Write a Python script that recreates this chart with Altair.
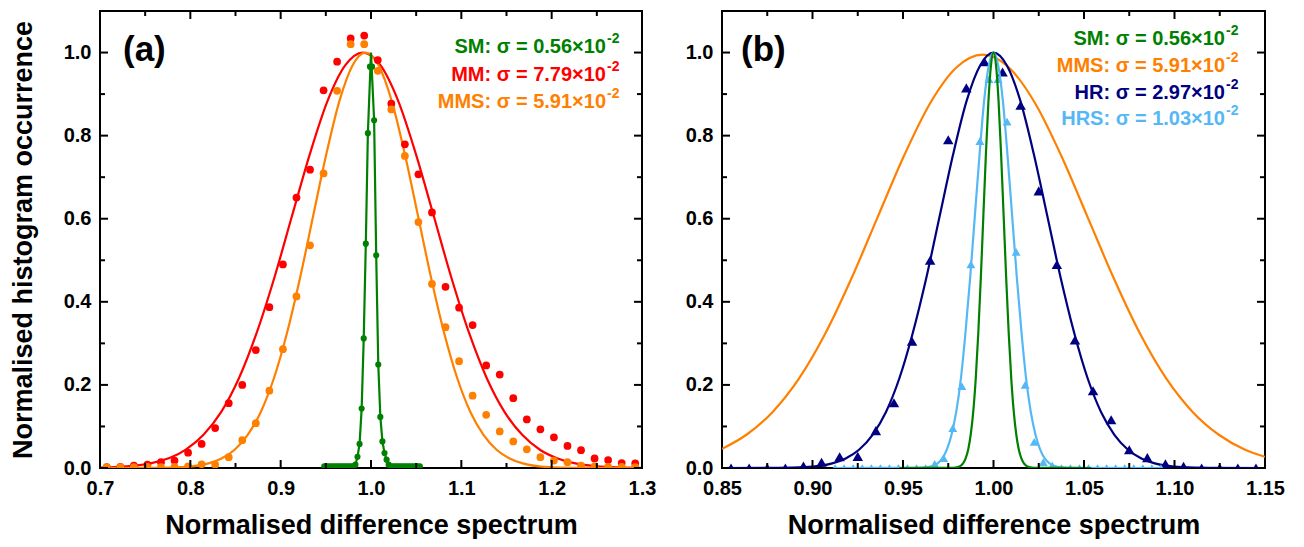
import altair as alt
import pandas as pd

FONT = "Liberation Sans"
RED, ORANGE, GREEN = "#FF0000", "#FF8000", "#008000"
NAVY, LBLUE = "#000080", "#55B8F5"

# ---------------- panel (a) data ----------------
dots_a_x = [0.7075, 0.7225, 0.7375, 0.7525, 0.7675, 0.7825, 0.7975, 0.8125, 0.8275, 0.8425,
            0.8575, 0.8725, 0.8875, 0.9025, 0.9175, 0.9325, 0.9475, 0.9625, 0.9775, 0.9925,
            1.0075, 1.0225, 1.0375, 1.0525, 1.0675, 1.0825, 1.0975, 1.1125, 1.1275, 1.1425,
            1.1575, 1.1725, 1.1875, 1.2025, 1.2175, 1.2325, 1.2475, 1.2625, 1.2775, 1.2925]
mm_dots = [0.002, 0.003, 0.006, 0.008, 0.014, 0.018, 0.037, 0.058, 0.096, 0.156,
           0.200, 0.284, 0.387, 0.490, 0.651, 0.718, 0.909, 0.978, 1.034, 1.041,
           0.982, 0.877, 0.779, 0.707, 0.615, 0.436, 0.386, 0.344, 0.247, 0.225,
           0.168, 0.117, 0.093, 0.074, 0.053, 0.043, 0.023, 0.019, 0.012, 0.011]
mms_dots = [0.002, 0.002, 0.002, 0.003, 0.002, 0.003, 0.004, 0.009, 0.008, 0.026,
            0.067, 0.108, 0.186, 0.286, 0.413, 0.536, 0.709, 0.908, 1.020, 1.020,
            0.956, 0.863, 0.751, 0.592, 0.443, 0.339, 0.257, 0.174, 0.128, 0.088,
            0.064, 0.045, 0.026, 0.018, 0.014, 0.006, 0.004, 0.003, 0.003, 0.002]
sm_dots_x = [0.94825, 0.95055, 0.95285, 0.95515, 0.95745, 0.95975, 0.96205, 0.96435, 0.96665, 0.96895,
             0.97125, 0.97355, 0.97585, 0.97815, 0.98045, 0.98275, 0.98505, 0.98735, 0.98965, 0.99195,
             0.99425, 0.99655, 0.99885, 1.00115, 1.00345, 1.00575, 1.00805, 1.01035, 1.01265, 1.01495,
             1.01725, 1.01955, 1.02185, 1.02415, 1.02645, 1.02875, 1.03105, 1.03335, 1.03565, 1.03795,
             1.04025, 1.04255, 1.04485, 1.04715, 1.04945, 1.05175, 1.05405]
sm_dots = [0.004, 0.004, 0.004, 0.004, 0.004, 0.004, 0.004, 0.004, 0.004, 0.004,
           0.004, 0.004, 0.004, 0.004, 0.004, 0.008, 0.027, 0.058, 0.143, 0.312,
           0.540, 0.806, 0.966, 0.966, 0.837, 0.512, 0.249, 0.123, 0.064, 0.036,
           0.020, 0.008, 0.004, 0.004, 0.004, 0.004, 0.004, 0.004, 0.004, 0.004,
           0.004, 0.004, 0.004, 0.004, 0.004, 0.004, 0.004]

# fitted curves
mm_fit_x = [0.700, 0.7166, 0.7558, 0.795, 0.8146, 0.8342, 0.8538, 0.8734, 0.893, 0.9126,
            0.9322, 0.9518, 0.9714, 0.991, 1.0106, 1.0302, 1.0498, 1.0694, 1.089, 1.1086,
            1.1282, 1.1478, 1.1674, 1.187, 1.2066, 1.2262, 1.2654, 1.300]
mm_fit_y = [0.001, 0.002, 0.011, 0.044, 0.080, 0.135, 0.216, 0.325, 0.458, 0.607,
            0.755, 0.883, 0.969, 1.000, 0.969, 0.883, 0.755, 0.607, 0.458, 0.325,
            0.216, 0.135, 0.080, 0.044, 0.023, 0.011, 0.002, 0.0004]
mms_fit_x = [0.700, 0.762, 0.791, 0.820, 0.8345, 0.849, 0.8635, 0.878, 0.8925, 0.907,
             0.9215, 0.936, 0.9505, 0.965, 0.9795, 0.994, 1.0085, 1.023, 1.0375, 1.052,
             1.0665, 1.081, 1.0955, 1.110, 1.1245, 1.139, 1.1535, 1.168, 1.197, 1.226, 1.300]
mms_fit_y = [0.0, 0.0003, 0.002, 0.011, 0.023, 0.044, 0.080, 0.135, 0.216, 0.325,
             0.458, 0.607, 0.755, 0.883, 0.969, 1.000, 0.969, 0.883, 0.755, 0.607,
             0.458, 0.325, 0.216, 0.135, 0.080, 0.044, 0.023, 0.011, 0.002, 0.0003, 0.0]
sm_line_x = [0.94825, 0.98045, 0.98275, 0.98505, 0.98735, 0.98965, 0.99195, 0.99425, 0.99655, 1.0,
             1.00345, 1.00575, 1.00805, 1.01035, 1.01265, 1.01495, 1.01725, 1.01955, 1.02185, 1.05405]
sm_line_y = [0, 0, 0.008, 0.027, 0.058, 0.143, 0.312, 0.540, 0.806, 1.0,
             0.837, 0.512, 0.249, 0.123, 0.064, 0.036, 0.020, 0.008, 0, 0]

# ---------------- panel (b) data ----------------
hr_x = [0.855, 0.865, 0.875, 0.885, 0.895, 0.905, 0.915, 0.925, 0.935, 0.945,
        0.955, 0.965, 0.975, 0.985, 0.995, 1.005, 1.015, 1.025, 1.035, 1.045,
        1.055, 1.065, 1.075, 1.085, 1.095, 1.105, 1.115, 1.125, 1.135, 1.145]
hr_tri = [0.0, 0.0, 0.0, 0.0, 0.005, 0.014, 0.027, 0.028, 0.090, 0.157,
          0.305, 0.500, 0.790, 0.915, 0.978, 0.953, 0.873, 0.667, 0.490, 0.308,
          0.186, 0.116, 0.044, 0.025, 0.010, 0.004, 0.0, 0.0, 0.0, 0.0]
hrs_x = [0.9125, 0.9175, 0.9225, 0.9275, 0.9325, 0.9375, 0.9425, 0.9475, 0.9525, 0.9575,
         0.9625, 0.9675, 0.9725, 0.9775, 0.9825, 0.9875, 0.9925, 0.9975, 1.0025, 1.0075,
         1.0125, 1.0175, 1.0225, 1.0275, 1.0325, 1.0375, 1.0425, 1.0475, 1.0525, 1.0575,
         1.0625, 1.0675, 1.0725, 1.0775, 1.0825, 1.0875, 1.0925]
hrs_tri = [0, 0, 0, 0, 0, 0, 0, 0, 0, 0,
           0, 0.010, 0.024, 0.096, 0.197, 0.490, 0.787, 0.936, 0.936, 0.834,
           0.520, 0.200, 0.063, 0.014, 0.006, 0, 0, 0, 0, 0,
           0, 0, 0, 0, 0, 0, 0]

mms_b_x = [0.850, 0.8635, 0.878, 0.8925, 0.907, 0.9215, 0.936, 0.9505, 0.965, 0.9795,
           0.994, 1.0085, 1.023, 1.0375, 1.052, 1.0665, 1.081, 1.0955, 1.110, 1.1245,
           1.139, 1.150]
mms_b_y = [0.046, 0.080, 0.135, 0.215, 0.323, 0.456, 0.604, 0.751, 0.878, 0.964,
           0.995, 0.964, 0.878, 0.751, 0.604, 0.456, 0.323, 0.215, 0.135, 0.080,
           0.044, 0.027]
hr_fit_x = [0.850, 0.8812, 0.896, 0.9109, 0.9183, 0.9257, 0.9332, 0.9406, 0.948, 0.9554,
            0.9629, 0.9703, 0.9777, 0.9851, 0.9926, 1.0, 1.0074, 1.0149, 1.0223, 1.0297,
            1.0371, 1.0446, 1.052, 1.0594, 1.0668, 1.0743, 1.0817, 1.0891, 1.104, 1.1188, 1.150]
hr_fit_y = [0.0, 0.0003, 0.002, 0.011, 0.023, 0.044, 0.080, 0.135, 0.216, 0.325,
            0.458, 0.607, 0.755, 0.883, 0.969, 1.0, 0.969, 0.883, 0.755, 0.607,
            0.458, 0.325, 0.216, 0.135, 0.080, 0.044, 0.023, 0.011, 0.002, 0.0003, 0.0]
hrs_fit_x = [0.9125, 0.9588, 0.9639, 0.9691, 0.9717, 0.9742, 0.9768, 0.9794, 0.982, 0.9845,
             0.9871, 0.9897, 0.9923, 0.9948, 0.9974, 1.0, 1.0026, 1.0052, 1.0077, 1.0103,
             1.0129, 1.0155, 1.018, 1.0206, 1.0232, 1.0258, 1.0283, 1.0309, 1.0361, 1.0412, 1.0925]
hrs_fit_y = [0.0, 0.0003, 0.002, 0.011, 0.023, 0.044, 0.080, 0.135, 0.216, 0.325,
             0.458, 0.607, 0.755, 0.883, 0.969, 1.0, 0.969, 0.883, 0.755, 0.607,
             0.458, 0.325, 0.216, 0.135, 0.080, 0.044, 0.023, 0.011, 0.002, 0.0003, 0.0]
sm_fit_x = [0.948, 0.9776, 0.9804, 0.9832, 0.9846, 0.986, 0.9874, 0.9888, 0.9902, 0.9916,
            0.993, 0.9944, 0.9958, 0.9972, 0.9986, 1.0, 1.0014, 1.0028, 1.0042, 1.0056,
            1.007, 1.0084, 1.0098, 1.0112, 1.0126, 1.014, 1.0154, 1.0168, 1.0196, 1.0224, 1.054]
sm_fit_y = [0.0, 0.0003, 0.002, 0.011, 0.023, 0.044, 0.080, 0.135, 0.216, 0.325,
            0.458, 0.607, 0.755, 0.883, 0.969, 1.0, 0.969, 0.883, 0.755, 0.607,
            0.458, 0.325, 0.216, 0.135, 0.080, 0.044, 0.023, 0.011, 0.002, 0.0003, 0.0]

# ticks / labels
y_major = [0.0, 0.2, 0.4, 0.6, 0.8, 1.0]
y_minor = [0.1, 0.3, 0.5, 0.7, 0.9]
xa_major = [0.7, 0.8, 0.9, 1.0, 1.1, 1.2, 1.3]
xa_minor = [0.75, 0.85, 0.95, 1.05, 1.15, 1.25]
xb_major = [0.85, 0.90, 0.95, 1.00, 1.05, 1.10, 1.15]
xb_minor = [0.875, 0.925, 0.975, 1.025, 1.075, 1.125]

ann_a = [("SM", "0.56", GREEN), ("MM", "7.79", RED), ("MMS", "5.91", ORANGE)]
ann_b = [("SM", "0.56", GREEN), ("MMS", "5.91", ORANGE), ("HR", "2.97", NAVY), ("HRS", "1.03", LBLUE)]

W_A, W_B, H = 542, 543, 457
XTITLE = "Normalised difference spectrum"
YTITLE = "Normalised histogram occurrence"
MAJ, MIN = 8, 5


def df(xs, ys):
    return pd.DataFrame({"x": xs, "y": ys})


def xenc(xdom, axis=None):
    kw = {} if axis is None else {"axis": axis}
    return alt.X("x:Q", scale=alt.Scale(domain=xdom, nice=False, zero=False), **kw)


def yenc(axis=None):
    kw = {} if axis is None else {"axis": axis}
    return alt.Y("y:Q", scale=alt.Scale(domain=[0, 1.1], nice=False, zero=False), **kw)


def label_axes(xmaj, xfmt, ytitle):
    xlab = alt.Axis(orient="bottom", values=xmaj, format=xfmt, ticks=False, tickSize=0,
                    domain=False, grid=False, labelFlush=False, labelPadding=10,
                    labelFont=FONT, labelFontSize=20, labelFontWeight="bold", labelColor="black",
                    title=XTITLE, titleFont=FONT, titleFontSize=27, titleFontWeight="bold",
                    titleColor="black", titlePadding=14)
    ykw = dict(orient="left", values=y_major, format=".1f", ticks=False, tickSize=0,
               domain=False, grid=False, labelFlush=False, labelPadding=9,
               labelFont=FONT, labelFontSize=20, labelFontWeight="bold", labelColor="black")
    if ytitle:
        ylab = alt.Axis(title=ytitle, titleFont=FONT, titleFontSize=27, titleFontWeight="bold",
                        titleColor="black", titlePadding=26, **ykw)
    else:
        ylab = alt.Axis(title="", **ykw)
    return xlab, ylab


def xticks(values, xdom, size):
    d = pd.DataFrame({"x": values})
    bottom = alt.Chart(d).mark_rule(color="black", strokeWidth=2).encode(
        x=xenc(xdom), y=alt.value(H), y2=alt.value(H - size))
    top = alt.Chart(d).mark_rule(color="black", strokeWidth=2).encode(
        x=xenc(xdom), y=alt.value(0), y2=alt.value(size))
    return [bottom, top]


def yticks(values, w, size):
    d = pd.DataFrame({"y": values})
    left = alt.Chart(d).mark_rule(color="black", strokeWidth=2).encode(
        y=yenc(), x=alt.value(0), x2=alt.value(size))
    right = alt.Chart(d).mark_rule(color="black", strokeWidth=2).encode(
        y=yenc(), x=alt.value(w - size), x2=alt.value(w))
    return [left, right]


def all_ticks(xmaj, xmin, xdom, w):
    return (xticks(xmaj, xdom, MAJ) + xticks(xmin, xdom, MIN)
            + yticks(y_major, w, MAJ) + yticks(y_minor, w, MIN))


def line(data, color, xdom, axes=(None, None), width=2.2, interp="monotone"):
    return alt.Chart(data).mark_line(color=color, strokeWidth=width, clip=True,
                                     interpolate=interp).encode(
        x=xenc(xdom, axes[0]), y=yenc(axes[1]))


def pts(data, color, xdom, shape="circle", size=55):
    return alt.Chart(data).mark_point(color=color, fill=color, filled=True, opacity=1,
                                      shape=shape, size=size, clip=True, strokeWidth=0).encode(
        x=xenc(xdom), y=yenc())


def text(label, color, x, y, size, align="right"):
    return alt.Chart(pd.DataFrame({"t": [label]})).mark_text(
        align=align, baseline="alphabetic", font=FONT, fontWeight="bold", fontSize=size,
        color=color).encode(x=alt.value(x), y=alt.value(y), text="t:N")


def annotations(items, x_end, y0, dy):
    out = []
    for i, (name, sig, col) in enumerate(items):
        yb = y0 + i * dy
        out.append(text(f"{name}: \u03c3 = {sig}\u00d710", col, x_end, yb, 20))
        out.append(text("-2", col, x_end + 1, yb - 10, 14, align="left"))
    return out


XA = [0.7, 1.3]
XB = [0.85, 1.15]

panel_a = alt.layer(
    line(df(mm_fit_x, mm_fit_y), RED, XA, label_axes(xa_major, ".1f", YTITLE)),
    line(df(mms_fit_x, mms_fit_y), ORANGE, XA),
    pts(df(dots_a_x, mm_dots), RED, XA, size=60),
    pts(df(dots_a_x, mms_dots), ORANGE, XA, size=60),
    line(df(sm_line_x, sm_line_y), GREEN, XA, interp="linear"),
    pts(df(sm_dots_x, sm_dots), GREEN, XA, size=38),
    *all_ticks(xa_major, xa_minor, XA, W_A),
    *annotations(ann_a, 506, 42, 27.5),
    text("(a)", "black", 23, 50, 35, align="left"),
).properties(width=W_A, height=H)

panel_b = alt.layer(
    line(df(mms_b_x, mms_b_y), ORANGE, XB, label_axes(xb_major, ".2f", None)),
    line(df(hr_fit_x, hr_fit_y), NAVY, XB),
    pts(df(hr_x, hr_tri), NAVY, XB, shape="triangle-up", size=110),
    line(df(hrs_fit_x, hrs_fit_y), LBLUE, XB),
    pts(df(hrs_x, hrs_tri), LBLUE, XB, shape="triangle-up", size=80),
    line(df(sm_fit_x, sm_fit_y), GREEN, XB),
    *all_ticks(xb_major, xb_minor, XB, W_B),
    *annotations(ann_b, 503, 34, 26.8),
    text("(b)", "black", 19, 50, 35, align="left"),
).properties(width=W_B, height=H)

chart = alt.hconcat(panel_a, panel_b, spacing=27).resolve_scale(
    x="independent", y="independent"
).properties(
    padding={"left": 0, "top": 1, "right": 0, "bottom": 0}
).configure_view(stroke="black", strokeWidth=2)

chart.save("out.html", embed_options={"renderer": "svg", "actions": False})
